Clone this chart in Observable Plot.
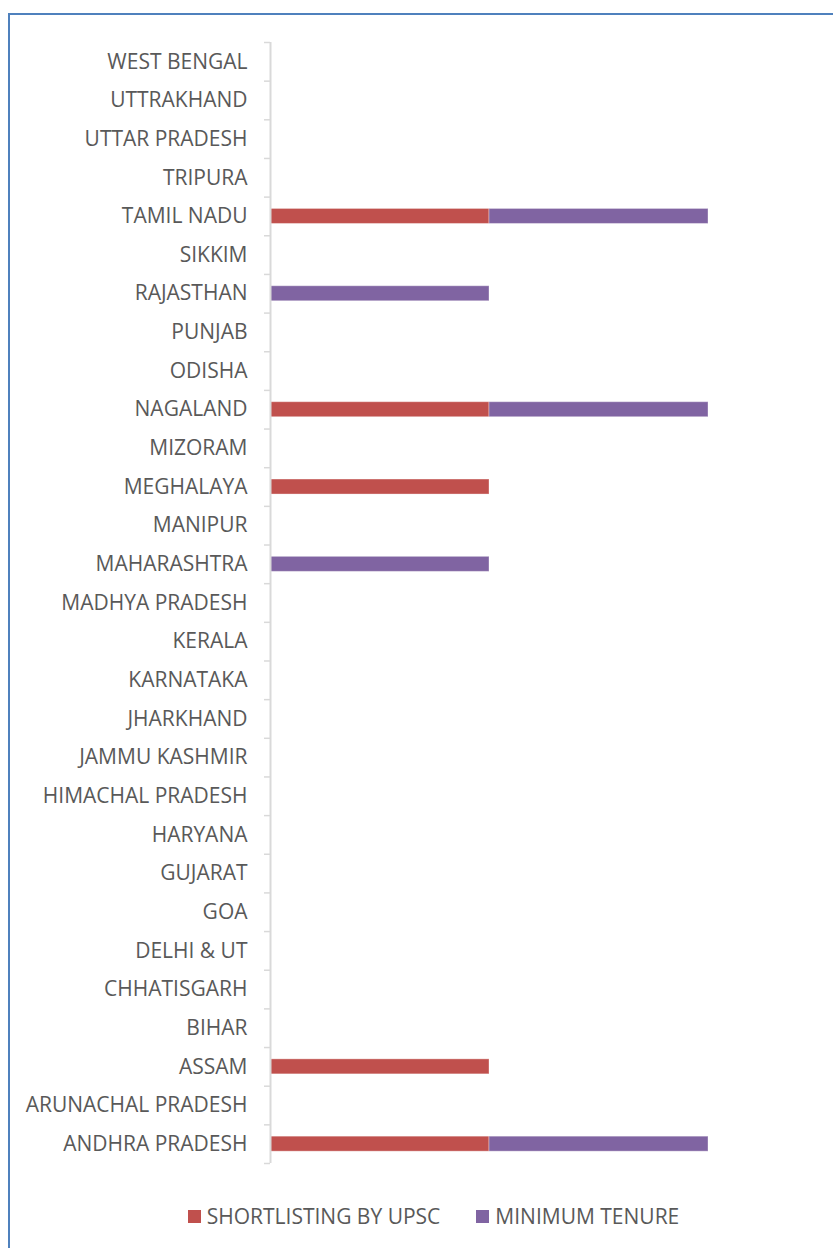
<!DOCTYPE html>
<html><head><meta charset="utf-8">
<script src="https://cdn.jsdelivr.net/npm/d3@7"></script>
<script src="https://cdn.jsdelivr.net/npm/@observablehq/plot@0.6"></script>
<style>
html,body{margin:0;padding:0;background:#fff;overflow:hidden;width:833px;height:1248px}
#frame{position:absolute;left:8px;top:13px;width:900px;height:1300px;border-left:2px solid #4F81BD;border-top:2px solid #4F81BD;box-sizing:border-box}
#chart{position:absolute;left:0;top:0}
#legend{position:absolute;top:1202px;left:0;width:867px;display:flex;justify-content:center;gap:36px;font:21px 'Open Sans',sans-serif;color:#595959}
#legend span.item{display:flex;align-items:center}
#legend span.sw{display:inline-block;width:13px;height:13px;margin-right:6px}
</style></head>
<body>
<div id="frame"></div>
<div id="chart"></div>
<div id="legend"></div>
<script>
const states = ["ANDHRA PRADESH","ARUNACHAL PRADESH","ASSAM","BIHAR","CHHATISGARH","DELHI & UT","GOA","GUJARAT","HARYANA","HIMACHAL PRADESH","JAMMU KASHMIR","JHARKHAND","KARNATAKA","KERALA","MADHYA PRADESH","MAHARASHTRA","MANIPUR","MEGHALAYA","MIZORAM","NAGALAND","ODISHA","PUNJAB","RAJASTHAN","SIKKIM","TAMIL NADU","TRIPURA","UTTAR PRADESH","UTTRAKHAND","WEST BENGAL"];
const seriesNames = ["SHORTLISTING BY UPSC","MINIMUM TENURE"];
const seriesColors = ["#C0504D","#8064A2"];
const shortlisting =  [1,0,1,0,0,0,0,0,0,0,0,0,0,0,0,0,0,1,0,1,0,0,0,0,1,0,0,0,0];
const minimumTenure = [1,0,0,0,0,0,0,0,0,0,0,0,0,0,0,1,0,0,0,1,0,0,1,0,1,0,0,0,0];

const rows = [];
states.forEach((s,i)=>{
  rows.push({state:s, series:seriesNames[0], value:shortlisting[i]});
  rows.push({state:s, series:seriesNames[1], value:minimumTenure[i]});
});

const W = 833, H = 1180, mTop = 42, mBottom = 17, mLeft = 270, mRight = 125;
const step = (H - mTop - mBottom) / states.length;
const barH = 15;
const inset = (step - barH) / 2;
const tickLen = 6 / (W - mLeft - mRight) * 2;

const chart = Plot.plot({
  width: W, height: H,
  marginTop: mTop, marginBottom: mBottom, marginLeft: mLeft, marginRight: mRight,
  style: {fontFamily: "'Open Sans', sans-serif", fontSize: "21px", color: "#595959", background: "transparent"},
  x: {domain: [0, 2], axis: null},
  y: {domain: states.slice().reverse(), padding: 0, round: false, label: null},
  color: {domain: seriesNames, range: seriesColors},
  marks: [
    Plot.axisY({tickSize: 0, tickPadding: 23, label: null, fontSize: 21, fill: "#595959"}),
    Plot.barX(rows.filter(d => d.value > 0), {y: "state", x: "value", fill: "series", insetTop: inset, insetBottom: inset, stroke: "#fff", strokeOpacity: 0.35, strokeWidth: 1}),
    Plot.ruleY(states, {y: d => d, x1: -tickLen, x2: 0, dy: -step/2, stroke: "#D9D9D9", strokeWidth: 1.5}),
    Plot.ruleY([states[0]], {y: d => d, x1: -tickLen, x2: 0, dy: step/2, stroke: "#D9D9D9", strokeWidth: 1.5}),
    Plot.ruleX([0], {stroke: "#D9D9D9", strokeWidth: 2})
  ]
});
document.getElementById("chart").appendChild(chart);

const legend = document.getElementById("legend");
seriesNames.forEach((n,i)=>{
  const it = document.createElement("span"); it.className = "item";
  const sw = document.createElement("span"); sw.className = "sw"; sw.style.background = seriesColors[i];
  it.appendChild(sw); it.appendChild(document.createTextNode(n));
  legend.appendChild(it);
});
</script>
</body></html>
